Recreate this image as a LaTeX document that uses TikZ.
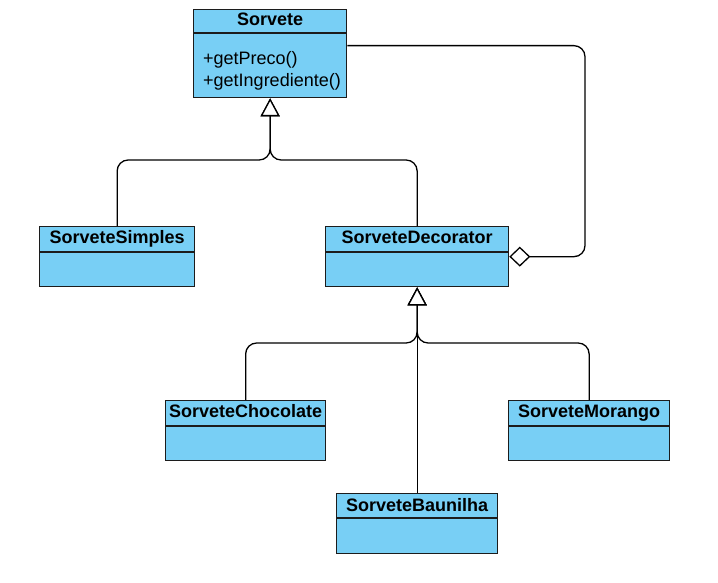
\documentclass[tikz,border=0pt]{standalone}
\usepackage{fontspec}
\setmainfont{Liberation Sans}
\usetikzlibrary{arrows.meta}
\definecolor{boxfill}{RGB}{120,207,245}
\definecolor{boxline}{RGB}{28,28,28}
\begin{document}
\begin{tikzpicture}[x=1pt,y=-1pt,
  cls/.style={draw=boxline, fill=boxfill, line width=1.3pt, rectangle, inner sep=0pt, anchor=north west},
  sepline/.style={draw=boxline, line width=1.3pt},
  ttl/.style={font=\bfseries\fontsize{18}{21}\selectfont, inner sep=0pt, anchor=base},
  mth/.style={font=\fontsize{18}{21}\selectfont, inner sep=0pt, anchor=base west},
  inh/.style={draw=black, line width=1.3pt, rounded corners=11pt,
    -{Triangle[length=18pt, width=19pt, fill=white]}},
  agg/.style={draw=black, line width=1.3pt, rounded corners=11pt,
    -{Diamond[length=21pt, width=20pt, fill=white]}}]
\useasboundingbox (0,0) rectangle (718,583);
\fill[white] (0,0) rectangle (718,583);

% Sorvete (interface with two operations)
\node[cls, minimum width=153pt, minimum height=88pt] (sorvete) at (193,9) {};
\draw[sepline] (sorvete.west |- 0,33) -- (sorvete.east |- 0,33);
\node[ttl] (sorveteT) at (sorvete.north |- 0,26) {Sorvete};
\node[mth] (getPreco) at (203,65) {+getPreco()};
\node[mth] (getIngr) at (203,87) {+getIngrediente()};

% SorveteSimples
\node[cls, minimum width=155pt, minimum height=60pt] (simp) at (39,226) {};
\draw[sepline] (simp.west |- 0,252) -- (simp.east |- 0,252);
\node[ttl] (simpT) at (simp.north |- 0,243) {SorveteSimples};

% SorveteDecorator
\node[cls, minimum width=183pt, minimum height=60pt] (deco) at (325,226) {};
\draw[sepline] (deco.west |- 0,252) -- (deco.east |- 0,252);
\node[ttl] (decoT) at (deco.north |- 0,243) {SorveteDecorator};

% SorveteChocolate
\node[cls, minimum width=160pt, minimum height=60pt] (choc) at (165,400) {};
\draw[sepline] (choc.west |- 0,426) -- (choc.east |- 0,426);
\node[ttl] (chocT) at (choc.north |- 0,417) {SorveteChocolate};

% SorveteMorango
\node[cls, minimum width=161pt, minimum height=60pt] (mor) at (508,400) {};
\draw[sepline] (mor.west |- 0,426) -- (mor.east |- 0,426);
\node[ttl] (morT) at (mor.north |- 0,417) {SorveteMorango};

% SorveteBaunilha
\node[cls, minimum width=161pt, minimum height=60pt] (baun) at (336,493) {};
\draw[sepline] (baun.west |- 0,518) -- (baun.east |- 0,518);
\node[ttl] (baunT) at (baun.north |- 0,511) {SorveteBaunilha};

% junction points of the generalisation trees
\coordinate (topj) at (sorvete.south |- 0,160);
\coordinate (botj) at (deco.south |- 0,343);
\coordinate (aggx) at (585,150);

% generalisations
\draw[inh] (simp.north) |- (topj) -- (sorvete.south);
\draw[inh] (deco.north) |- (topj) -- (sorvete.south);
\draw[inh] (choc.north) |- (botj) -- (deco.south);
\draw[inh] (mor.north) |- (botj) -- (deco.south);
\draw[inh] (baun.north) -- (deco.south);

% aggregation: decorator wraps a Sorvete
\draw[agg] ([yshift=8pt]sorvete.east) -| (aggx) |- (deco.east);
\end{tikzpicture}
\end{document}
